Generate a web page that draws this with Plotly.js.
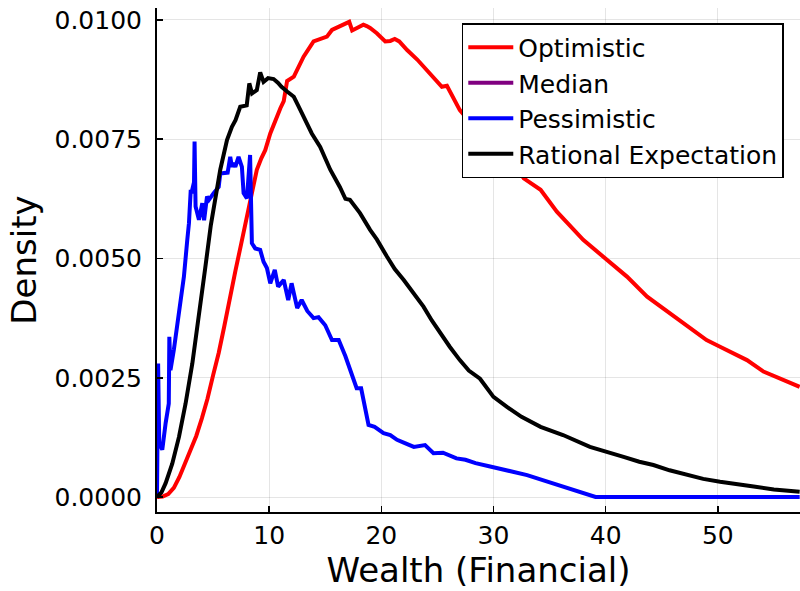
<!DOCTYPE html>
<html>
<head>
<meta charset="utf-8">
<script src="https://cdn.plot.ly/plotly-3.0.1.min.js"></script>
<style>html,body{margin:0;padding:0;background:#fff;}#chart{width:800px;height:591px;}</style>
</head>
<body>
<div id="chart"></div>
<script>
// Optimistic
const optX = [0, 0.5, 1.0, 1.5, 2.0, 2.5, 3.0, 3.5, 4.0, 4.5,
  5.0, 5.5, 6.0, 6.5, 7.0, 7.5, 8.0, 8.5, 8.9, 9.3,
  9.65, 10.1, 10.54, 11.0, 11.3, 11.6, 12.2, 12.6, 13.07, 13.96,
  14.4, 15.15, 15.6, 16.2, 16.9, 17.14, 17.4, 17.9, 18.4, 18.7,
  19.0, 19.6, 20.35, 20.8, 21.2, 21.6, 22.3, 23.2, 24.06, 24.7,
  25.4, 25.85, 26.4, 27.0, 28.5, 30.0, 31.8, 32.7, 34.2, 35.65,
  38.0, 40.1, 41.9, 43.7, 46.6, 49.0, 50.2, 52.6, 54.07, 57.3];
const optY = [0, 0.00001, 0.00006, 0.00019, 0.00042, 0.0007, 0.00099, 0.00128, 0.00165, 0.00206,
  0.00255, 0.00302, 0.00358, 0.00412, 0.00475, 0.0053, 0.00588, 0.0064, 0.00686, 0.0071,
  0.00727, 0.00762, 0.0079, 0.00815, 0.0083, 0.00872, 0.00881, 0.009, 0.00923, 0.00955,
  0.00958, 0.00965, 0.00979, 0.00985, 0.00993, 0.00996, 0.00978, 0.00985, 0.0099, 0.00987,
  0.00983, 0.00972, 0.00955, 0.00956, 0.0096, 0.00955, 0.00937, 0.00917, 0.00895, 0.00878,
  0.0086, 0.00862, 0.00838, 0.00811, 0.0077, 0.0074, 0.0070, 0.00668, 0.00644, 0.00598,
  0.00539, 0.00497, 0.00462, 0.0042, 0.00371, 0.00329, 0.00315, 0.00287, 0.00263, 0.00231];

// Median (no visible line in the reference; legend entry only)
const medX = [0];
const medY = [null];

// Pessimistic
const pesX = [0, 0.1, 0.2, 0.47, 0.77, 1.05, 1.1, 1.2, 1.5, 1.8,
  2.1, 2.4, 2.7, 2.85, 3.0, 3.1, 3.3, 3.35, 3.44, 3.74,
  4.04, 4.2, 4.46, 4.63, 5.05, 5.5, 5.64, 6.09, 6.3, 6.53,
  6.68, 6.8, 6.98, 7.27, 7.57, 7.72, 8.02, 8.3, 8.46, 8.76,
  9.2, 9.5, 9.8, 10.1, 10.5, 10.8, 11.3, 11.7, 12.0, 12.5,
  12.9, 13.4, 13.96, 14.4, 15.0, 15.6, 16.2, 16.8, 17.5, 17.8,
  18.2, 18.86, 19.4, 20.2, 20.8, 21.4, 22.1, 22.9, 23.9, 24.65,
  25.5, 26.1, 26.7, 27.5, 28.4, 29.7, 30.9, 32.1, 33.0, 34.6,
  36.2, 37.7, 39.1, 45.0, 50.0, 57.3];
const pesY = [0, 0.0028, 0.00113, 0.00099, 0.00155, 0.00196, 0.00336, 0.00266, 0.00308, 0.00364,
  0.00406, 0.00462, 0.00539, 0.00574, 0.0064, 0.0064, 0.0066, 0.00745, 0.00609, 0.00581,
  0.00616, 0.0058, 0.0063, 0.00623, 0.00637, 0.0065, 0.00678, 0.00678, 0.0068, 0.00713,
  0.00692, 0.007, 0.00692, 0.00713, 0.00692, 0.00637, 0.00626, 0.00717, 0.00532, 0.00521,
  0.00518, 0.00493, 0.0048, 0.00448, 0.00476, 0.00441, 0.00455, 0.00413, 0.00448, 0.00396,
  0.00413, 0.0039, 0.00375, 0.00377, 0.0036, 0.00329, 0.00329, 0.00295, 0.00245, 0.00228,
  0.00228, 0.00151, 0.00147, 0.00134, 0.0013, 0.0012, 0.00113, 0.00105, 0.00109, 0.00092,
  0.00093, 0.00088, 0.00081, 0.00078, 0.00071, 0.00064, 0.00057, 0.0005, 0.00046, 0.00034,
  0.00022, 0.00011, 0, 0, 0, 0];

// Rational Expectation
const ratX = [0, 0.4, 0.77, 1.36, 1.96, 2.55, 3.15, 3.74, 4.3, 4.8,
  5.3, 5.64, 6.24, 6.68, 7.0, 7.42, 8.0, 8.23, 8.47, 8.9,
  9.2, 9.5, 9.9, 10.4, 10.8, 11.1, 11.6, 12.2, 12.6, 13.07,
  13.4, 13.8, 14.55, 15.45, 16.3, 16.8, 17.2, 18.1, 19.0, 19.6,
  20.5, 21.2, 22.0, 22.8, 23.76, 24.5, 25.25, 26.1, 27.0, 27.8,
  28.8, 30.0, 31.2, 32.5, 34.2, 36.2, 38.6, 40.0, 41.6, 43.0,
  44.26, 45.7, 47.2, 48.7, 50.2, 51.7, 53.2, 55.0, 57.3];
const ratY = [0, 0.0001, 0.00029, 0.0007, 0.00126, 0.00196, 0.0028, 0.0039, 0.0048, 0.0057,
  0.0064, 0.00686, 0.00748, 0.00776, 0.0079, 0.00818, 0.00821, 0.00867, 0.00846, 0.00853,
  0.0089, 0.0087, 0.00878, 0.00876, 0.00868, 0.0086, 0.0085, 0.00839, 0.0082, 0.00797,
  0.00785, 0.00762, 0.00734, 0.00686, 0.0065, 0.00625, 0.00623, 0.00595, 0.0056, 0.0054,
  0.00504, 0.00478, 0.00455, 0.0043, 0.00399, 0.0037, 0.00343, 0.00315, 0.00287, 0.00265,
  0.00248, 0.0021, 0.00189, 0.00168, 0.00147, 0.0013, 0.00105, 0.00096, 0.00084, 0.00074,
  0.00067, 0.00056, 0.00046, 0.00038, 0.00032, 0.00026, 0.00022, 0.00016, 0.00011];

const xTicks = [0, 10, 20, 30, 40, 50];
const yTicks = [0, 0.0025, 0.005, 0.0075, 0.01];
const yTickText = ["0.0000", "0.0025", "0.0050", "0.0075", "0.0100"];

const font = "DejaVu Sans, sans-serif";
const lw = 4;
const traces = [
  {x: optX, y: optY, name: "Optimistic", type: "scatter", mode: "lines", line: {color: "#ff0000", width: lw}},
  {x: medX, y: medY, name: "Median", type: "scatter", mode: "lines", line: {color: "#800080", width: lw}, showlegend: true},
  {x: pesX, y: pesY, name: "Pessimistic", type: "scatter", mode: "lines", line: {color: "#0000ff", width: lw}},
  {x: ratX, y: ratY, name: "Rational Expectation", type: "scatter", mode: "lines", line: {color: "#000000", width: lw}}
];

const layout = {
  width: 800, height: 591,
  margin: {l: 157, r: 0, t: 8, b: 79},
  paper_bgcolor: "#ffffff", plot_bgcolor: "#ffffff",
  font: {family: font, color: "#000000", size: 25},
  showlegend: true,
  xaxis: {
    range: [0, 57.33], tickvals: xTicks, ticks: "inside", ticklen: 6, tickwidth: 1.5, tickcolor: "#000",
    showline: true, linecolor: "#000", linewidth: 2, mirror: false,
    showgrid: true, gridcolor: "rgba(0,0,0,0.1)", gridwidth: 1, zeroline: false,
    tickfont: {family: font, size: 25, color: "#000"},
    title: {text: "Wealth (Financial)", font: {family: font, size: 34, color: "#000"}, standoff: 6}
  },
  yaxis: {
    range: [-0.000314, 0.01025], tickvals: yTicks, ticktext: yTickText, ticks: "inside", ticklen: 6, tickwidth: 1.5, tickcolor: "#000",
    showline: true, linecolor: "#000", linewidth: 2, mirror: false,
    showgrid: true, gridcolor: "rgba(0,0,0,0.1)", gridwidth: 1, zeroline: false,
    tickfont: {family: font, size: 25, color: "#000"}, ticklabelstandoff: 8,
    title: {text: "Density", font: {family: font, size: 34, color: "#000"}, standoff: 8}
  },
  legend: {
    x: 0.474, y: 0.970, xanchor: "left", yanchor: "top",
    bgcolor: "#ffffff", bordercolor: "#000000", borderwidth: 1.5,
    font: {family: font, size: 25, color: "#000"},
    itemwidth: 45, tracegroupgap: 0
  }
};

Plotly.newPlot("chart", traces, layout, {staticPlot: true, displayModeBar: false});
</script>
</body>
</html>
